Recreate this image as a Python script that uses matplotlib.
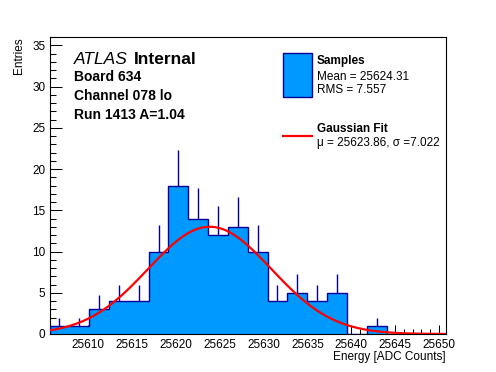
import numpy as np
import matplotlib
matplotlib.use("Agg")
import matplotlib.pyplot as plt
from matplotlib.patches import Rectangle
from matplotlib.lines import Line2D
from matplotlib.ticker import MultipleLocator

# histogram data (20 bins)
x_min = 25605.6
x_max = 25650.8
counts = [1, 1, 3, 4, 4, 10, 18, 14, 12, 13, 10, 4, 5, 4, 5, 0, 1, 0, 0, 0]

# gaussian fit parameters
fit_mu = 25623.86
fit_sigma = 7.022
fit_amp = 13.0

x_ticks = [25610, 25615, 25620, 25625, 25630, 25635, 25640, 25645, 25650]
y_ticks = [0, 5, 10, 15, 20, 25, 30, 35]

fill_col = "#0099ff"
edge_col = "#000099"

plt.rcParams["font.family"] = ["Liberation Sans", "DejaVu Sans"]

W, H = 496, 372
fig = plt.figure(figsize=(W / 100, H / 100), dpi=100)


def fx(px):
    return px / W


def fy(py):
    return 1 - py / H


ax = fig.add_axes([fx(49.5), fy(334), fx(446) - fx(49.5), fy(37) - fy(334)])

counts = np.array(counts)
edges = np.linspace(x_min, x_max, len(counts) + 1)
centers = 0.5 * (edges[:-1] + edges[1:])

ax.stairs(counts, edges, fill=True, facecolor=fill_col, linewidth=0, zorder=2)
ax.stairs(counts, edges, color=edge_col, linewidth=1.0, zorder=3)
nz = counts > 0
ax.vlines(centers[nz], counts[nz], counts[nz] + np.sqrt(counts[nz]),
          color=edge_col, linewidth=1.0, zorder=3)

xs = np.linspace(x_min, x_max, 300)
ax.plot(xs, fit_amp * np.exp(-0.5 * ((xs - fit_mu) / fit_sigma) ** 2),
        color="red", linewidth=1.6, zorder=4)

ax.set_xlim(x_min, x_max)
ax.set_ylim(0, 36)
ax.set_xticks(x_ticks)
ax.set_yticks(y_ticks)
ax.xaxis.set_minor_locator(MultipleLocator(1))
ax.yaxis.set_minor_locator(MultipleLocator(1))
ax.tick_params(axis="both", which="both", direction="in", top=False, right=False,
               labelsize=8.5, width=0.75)
ax.tick_params(axis="x", which="major", length=6.5, pad=3.5)
ax.tick_params(axis="x", which="minor", length=3.3)
ax.tick_params(axis="y", which="major", length=8.6, pad=3)
ax.tick_params(axis="y", which="minor", length=4.5)
for s in ax.spines.values():
    s.set_linewidth(0.8)

ax.set_xlabel("Energy [ADC Counts]", fontsize=8.5, loc="right")
ax.xaxis.set_label_coords(1.0, -0.058)
ax.set_ylabel("Entries", fontsize=8.5, loc="top")
ax.yaxis.set_label_coords(-0.063, 1.0)

# ATLAS label block
fig.text(fx(74), fy(64), "ATLAS", fontsize=12.5, style="italic", va="baseline")
fig.text(fx(134), fy(64), "Internal", fontsize=12.5, weight="bold", va="baseline")
fig.text(fx(74), fy(81), "Board 634", fontsize=10, weight="bold", va="baseline")
fig.text(fx(74), fy(100), "Channel 078 lo", fontsize=10, weight="bold", va="baseline")
fig.text(fx(74), fy(119), "Run 1413 A=1.04", fontsize=10, weight="bold", va="baseline")

# legend
fig.patches.append(Rectangle((fx(283), fy(97)), fx(312) - fx(283), fy(53) - fy(97),
                             transform=fig.transFigure, facecolor=fill_col,
                             edgecolor=edge_col, linewidth=1.0))
fig.text(fx(317), fy(61), "Samples", fontsize=8.5, weight="bold", va="center")
fig.text(fx(317), fy(77), "Mean = 25624.31", fontsize=8.5, va="center")
fig.text(fx(317), fy(90), "RMS = 7.557", fontsize=8.5, va="center")
fig.lines.append(Line2D([fx(283), fx(312)], [fy(136), fy(136)],
                        transform=fig.transFigure, color="red", linewidth=1.6))
fig.text(fx(317), fy(129), "Gaussian Fit", fontsize=8.5, weight="bold", va="center")
fig.text(fx(317), fy(143), "\u03bc = 25623.86, \u03c3 =7.022", fontsize=8.5, va="center")

fig.savefig("out.png", dpi=100)
